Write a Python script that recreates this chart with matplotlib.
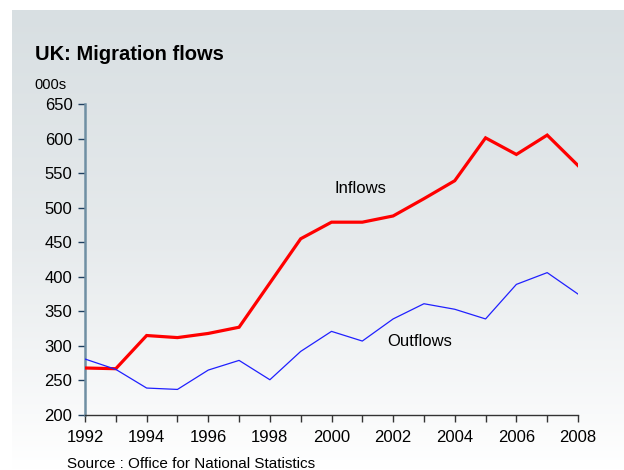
import numpy as np
import matplotlib
matplotlib.use("Agg")
import matplotlib.pyplot as plt
from matplotlib import font_manager
from matplotlib.colors import LinearSegmentedColormap

plt.rcParams['font.family'] = ['Liberation Sans', 'DejaVu Sans']

years = list(range(1992, 2009))
inflows = [268, 267, 315, 312, 318, 327, 391, 455, 479, 479, 488, 513, 539, 601, 577, 605, 561]
outflows = [281, 266, 239, 237, 265, 279, 251, 292, 321, 307, 339, 361, 353, 339, 389, 406, 375]
y_ticks = [200, 250, 300, 350, 400, 450, 500, 550, 600, 650]
x_labels = [1992, 1994, 1996, 1998, 2000, 2002, 2004, 2006, 2008]

W, H = 624, 470
fig = plt.figure(figsize=(W / 100, H / 100), dpi=100)
fig.patch.set_facecolor('white')

# Soft grey-to-white backdrop panel
bg = fig.add_axes([12 / W, 0, 1 - 12 / W, (H - 10) / H], zorder=0)
cmap = LinearSegmentedColormap.from_list('panel', ['#d8dfe2', '#e6eaec', '#ffffff'])
grad = np.linspace(0, 1, 256).reshape(-1, 1)
bg.imshow(grad, aspect='auto', cmap=cmap, extent=[0, 1, 0, 1], origin='upper')
bg.set_axis_off()

ax = fig.add_axes([85 / W, (H - 415) / H, (578 - 85) / W, (415 - 104) / H], zorder=1)
ax.patch.set_alpha(0)

ax.plot(years, inflows, color='#ff0000', lw=2.3, solid_joinstyle='miter', zorder=3)
ax.plot(years, outflows, color='#2020ff', lw=0.9, zorder=3)

ax.set_xlim(1992, 2008)
ax.set_ylim(200, 650)
ax.set_xticks(years)
ax.set_xticklabels([str(y) if y in x_labels else '' for y in years])
ax.set_yticks(y_ticks)

for s in ['top', 'right']:
    ax.spines[s].set_visible(False)
ax.spines['left'].set_color('#6f8fa3')
ax.spines['left'].set_linewidth(1.8)
ax.spines['bottom'].set_color('#333333')
ax.spines['bottom'].set_linewidth(1.0)

ax.tick_params(axis='y', direction='out', length=5, width=1, color='#1f3f5f',
               labelsize=12, pad=4)
ax.tick_params(axis='x', direction='out', length=5, width=1, color='#333333',
               labelsize=12, pad=6)

ax.text(2000.1, 521, 'Inflows', fontsize=12, ha='left', va='baseline')
ax.text(2001.8, 300, 'Outflows', fontsize=12, ha='left', va='baseline')

# Condensed bold title if a narrow face is available
names = {f.name for f in font_manager.fontManager.ttflist}
if 'Liberation Sans Narrow' in names:
    title_font = dict(family=['Liberation Sans Narrow', 'Liberation Sans'], fontsize=17)
else:
    title_font = dict(family=['Liberation Sans'], fontsize=14.5)
fig.text(35 / W, (H - 60) / H, 'UK: Migration flows', fontweight='bold',
         ha='left', va='baseline', **title_font)
fig.text(34 / W, (H - 89) / H, '000s', fontsize=10.5, ha='left', va='baseline')
fig.text(67 / W, 1.5 / H, 'Source : Office for National Statistics', fontsize=11,
         ha='left', va='baseline')

fig.savefig('out.png', dpi=100)
